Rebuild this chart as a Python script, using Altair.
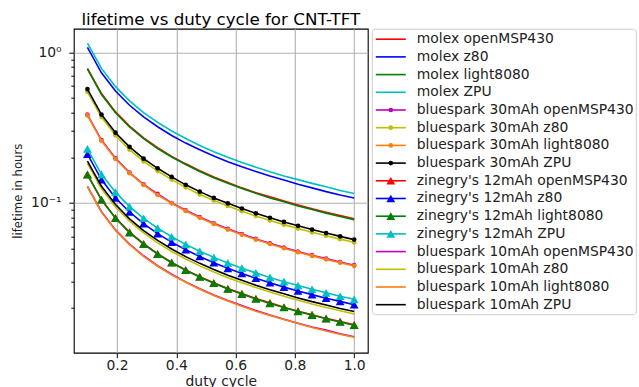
import altair as alt
import pandas as pd

# ---------------- data ----------------
duty = [0.1, 0.14737, 0.19474, 0.24211, 0.28947, 0.33684, 0.38421, 0.43158, 0.47895, 0.52632,
        0.57368, 0.62105, 0.66842, 0.71579, 0.76316, 0.81053, 0.85789, 0.90526, 0.95263, 1.0]

series_names = [
    "molex openMSP430", "molex z80", "molex light8080", "molex ZPU",
    "bluespark 30mAh openMSP430", "bluespark 30mAh z80", "bluespark 30mAh light8080", "bluespark 30mAh ZPU",
    "zinegry's 12mAh openMSP430", "zinegry's 12mAh z80", "zinegry's 12mAh light8080", "zinegry's 12mAh ZPU",
    "bluespark 10mAh openMSP430", "bluespark 10mAh z80", "bluespark 10mAh light8080", "bluespark 10mAh ZPU",
]

molex_openmsp430 = [0.785, 0.533, 0.403, 0.324, 0.271, 0.233, 0.204, 0.182, 0.164, 0.149,
                    0.137, 0.126, 0.117, 0.110, 0.103, 0.0969, 0.0915, 0.0867, 0.0824, 0.0785]
molex_z80 = [1.08, 0.733, 0.555, 0.446, 0.373, 0.321, 0.281, 0.250, 0.226, 0.205,
             0.188, 0.174, 0.162, 0.151, 0.142, 0.133, 0.126, 0.119, 0.113, 0.108]
molex_light8080 = [0.775, 0.526, 0.398, 0.320, 0.268, 0.230, 0.202, 0.180, 0.162, 0.147,
                   0.135, 0.125, 0.116, 0.108, 0.102, 0.0956, 0.0904, 0.0856, 0.0814, 0.0775]
molex_zpu = [1.155, 0.784, 0.593, 0.477, 0.399, 0.343, 0.301, 0.268, 0.241, 0.219,
             0.201, 0.186, 0.173, 0.161, 0.151, 0.143, 0.135, 0.128, 0.121, 0.1155]
bs30_openmsp430 = [0.386, 0.262, 0.198, 0.159, 0.133, 0.115, 0.100, 0.0894, 0.0806, 0.0733,
                   0.0673, 0.0621, 0.0577, 0.0539, 0.0506, 0.0476, 0.0450, 0.0427, 0.0405, 0.0386]
bs30_z80 = [0.548, 0.372, 0.281, 0.226, 0.189, 0.163, 0.143, 0.127, 0.114, 0.104,
            0.0955, 0.0882, 0.0820, 0.0766, 0.0718, 0.0676, 0.0639, 0.0606, 0.0575, 0.0548]
bs30_light8080 = [0.382, 0.259, 0.196, 0.158, 0.132, 0.113, 0.0994, 0.0885, 0.0798, 0.0726,
                  0.0666, 0.0615, 0.0571, 0.0534, 0.0500, 0.0471, 0.0445, 0.0422, 0.0401, 0.0382]
bs30_zpu = [0.571, 0.387, 0.293, 0.236, 0.197, 0.170, 0.149, 0.132, 0.119, 0.108,
            0.0995, 0.0919, 0.0854, 0.0798, 0.0748, 0.0705, 0.0666, 0.0631, 0.0600, 0.0571]
zin_openmsp430 = [0.155, 0.105, 0.0796, 0.0640, 0.0536, 0.0460, 0.0403, 0.0359, 0.0324, 0.0295,
                  0.0270, 0.0250, 0.0232, 0.0217, 0.0203, 0.0191, 0.0181, 0.0171, 0.0163, 0.0155]
zin_z80 = [0.211, 0.143, 0.108, 0.0871, 0.0729, 0.0626, 0.0549, 0.0489, 0.0441, 0.0401,
           0.0368, 0.0340, 0.0316, 0.0295, 0.0276, 0.0260, 0.0246, 0.0233, 0.0222, 0.0211]
zin_light8080 = [0.154, 0.105, 0.0791, 0.0636, 0.0532, 0.0457, 0.0401, 0.0357, 0.0322, 0.0293,
                 0.0268, 0.0248, 0.0230, 0.0215, 0.0202, 0.0190, 0.0180, 0.0170, 0.0162, 0.0154]
zin_zpu = [0.229, 0.155, 0.118, 0.0946, 0.0791, 0.0680, 0.0596, 0.0531, 0.0478, 0.0435,
           0.0399, 0.0369, 0.0343, 0.0320, 0.0300, 0.0283, 0.0267, 0.0253, 0.0240, 0.0229]
bs10_openmsp430 = [0.129, 0.0875, 0.0662, 0.0533, 0.0446, 0.0383, 0.0336, 0.0299, 0.0269, 0.0245,
                   0.0225, 0.0208, 0.0193, 0.0180, 0.0169, 0.0159, 0.0150, 0.0143, 0.0135, 0.0129]
bs10_z80 = [0.183, 0.124, 0.0940, 0.0756, 0.0632, 0.0543, 0.0476, 0.0424, 0.0382, 0.0348,
            0.0319, 0.0295, 0.0274, 0.0256, 0.0240, 0.0226, 0.0213, 0.0202, 0.0192, 0.0183]
bs10_light8080 = [0.128, 0.0869, 0.0657, 0.0529, 0.0442, 0.0380, 0.0333, 0.0297, 0.0267, 0.0243,
                  0.0223, 0.0206, 0.0191, 0.0179, 0.0168, 0.0158, 0.0149, 0.0141, 0.0134, 0.0128]
bs10_zpu = [0.190, 0.129, 0.0976, 0.0785, 0.0656, 0.0564, 0.0495, 0.0440, 0.0397, 0.0361,
            0.0331, 0.0306, 0.0284, 0.0265, 0.0249, 0.0234, 0.0221, 0.0210, 0.0199, 0.0190]

series_values = [molex_openmsp430, molex_z80, molex_light8080, molex_zpu,
                 bs30_openmsp430, bs30_z80, bs30_light8080, bs30_zpu,
                 zin_openmsp430, zin_z80, zin_light8080, zin_zpu,
                 bs10_openmsp430, bs10_z80, bs10_light8080, bs10_zpu]

# ---------------- styles ----------------
RED, BLUE, GREEN, CYAN = "#ff0000", "#0000ff", "#008000", "#00bfbf"
MAG, YEL, ORA, BLK = "#bf00bf", "#bfbf00", "#ff7f0e", "#000000"
series_colors = [RED, BLUE, GREEN, CYAN, MAG, YEL, ORA, BLK,
                 RED, BLUE, GREEN, CYAN, MAG, YEL, ORA, BLK]
series_markers = [None] * 4 + ["circle"] * 4 + ["triangle-up"] * 4 + [None] * 4
marker_sizes = {"circle": 22, "triangle-up": 78}

FONT = "DejaVu Sans"

rows = []
for name, vals in zip(series_names, series_values):
    for x, v in zip(duty, vals):
        rows.append({"series": name, "duty": x, "life": v})
df = pd.DataFrame(rows)

color_scale = alt.Scale(domain=series_names, range=series_colors)
x_enc = alt.X("duty:Q", scale=alt.Scale(domain=[0.054, 1.046], nice=False, zero=False),
              axis=alt.Axis(values=[0.2, 0.4, 0.6, 0.8, 1.0], format=".1f", title="duty cycle",
                            grid=True, gridColor="#b0b0b0", gridWidth=1.1,
                            domain=False, tickSize=5, tickColor="#000", tickWidth=1,
                            labelFontSize=13.9, labelFont=FONT, labelColor="#222",
                            labelPadding=0.5, titleFontSize=13.9, titleFont=FONT,
                            titleFontWeight="normal", titleColor="#222", titlePadding=2))
minor_vals = [1.0, 0.1, 0.9, 0.8, 0.7, 0.6, 0.5, 0.4, 0.3, 0.2,
              0.09, 0.08, 0.07, 0.06, 0.05, 0.04, 0.03, 0.02]
major_test = "datum.value == 1 || datum.value == 0.1"
y_enc = alt.Y("life:Q", scale=alt.Scale(type="log", domain=[0.01012, 1.439], nice=False),
              axis=alt.Axis(values=minor_vals,
                            labelExpr="datum.value == 1 ? '10⁰' : (datum.value == 0.1 ? '10⁻¹' : '')",
                            title="lifetime in hours", grid=True, gridColor="#b0b0b0", gridWidth=1.1,
                            gridOpacity={"condition": {"test": major_test, "value": 1}, "value": 0},
                            tickSize={"condition": {"test": major_test, "value": 5}, "value": 3},
                            domain=False, tickColor="#000", tickWidth=1,
                            labelFontSize=13.9, labelFont=FONT, labelColor="#222", labelPadding=7.7,
                            titleFontSize=11.7, titleFont=FONT, titleFontWeight="normal",
                            titleColor="#222", titlePadding=7))

layers = []
for i, name in enumerate(series_names):
    base = alt.Chart(df).transform_filter(alt.datum.series == name)
    line = base.mark_line(strokeWidth=1.6, clip=True).encode(
        x=x_enc, y=y_enc,
        color=alt.Color("series:N", scale=color_scale, legend=None))
    layers.append(line)
    mk = series_markers[i]
    if mk:
        pts = base.mark_point(shape=mk, filled=True, opacity=1, size=marker_sizes[mk],
                              strokeWidth=1, clip=True).encode(
            x=x_enc, y=y_enc,
            color=alt.Color("series:N", scale=color_scale, legend=None))
        layers.append(pts)

main = alt.layer(*layers).properties(
    width=294, height=324,
    title=alt.TitleParams("lifetime vs duty cycle for CNT-TFT", fontSize=16.7, font=FONT,
                          fontWeight="normal", color="#000", offset=0, anchor="middle"),
    view=alt.ViewBackground(stroke="#000", strokeWidth=1.1),
)

# ---------------- legend panel ----------------
leg_df = pd.DataFrame({
    "series": series_names,
    "row": list(range(len(series_names))),
    "marker": [m if m else "none" for m in series_markers],
})
leg_y = alt.Y("row:Q", scale=alt.Scale(domain=[-0.593, 15.537], reverse=True, nice=False, zero=False),
              axis=None)
leg_color = alt.Color("series:N", scale=color_scale, legend=None)
leg_base = alt.Chart(leg_df)
leg_lines = leg_base.mark_rule(strokeWidth=1.6).encode(
    x=alt.value(4), x2=alt.value(34), y=leg_y, color=leg_color)
leg_dots = leg_base.transform_filter(alt.datum.marker == "circle").mark_point(
    shape="circle", filled=True, opacity=1, size=22).encode(
    x=alt.value(19), y=leg_y, color=leg_color)
leg_tris = leg_base.transform_filter(alt.datum.marker == "triangle-up").mark_point(
    shape="triangle-up", filled=True, opacity=1, size=78).encode(
    x=alt.value(19), y=leg_y, color=leg_color)
leg_text = leg_base.mark_text(align="left", baseline="middle", font=FONT, fontSize=13.9,
                              color="#222").encode(
    x=alt.value(45), y=leg_y, text="series:N")

legend_panel = alt.layer(leg_lines, leg_dots, leg_tris, leg_text).properties(
    width=264, height=285.5,
    view=alt.ViewBackground(stroke="#cccccc", strokeWidth=1, cornerRadius=3, fill="white"),
)

chart = alt.hconcat(main, legend_panel, spacing=2).properties(
    padding={"left": 11.8, "top": 10.7, "right": 0, "bottom": 0},
    background="white",
).configure_view(strokeWidth=1)

chart.save("out.html", embed_options={"renderer": "svg", "actions": False})
